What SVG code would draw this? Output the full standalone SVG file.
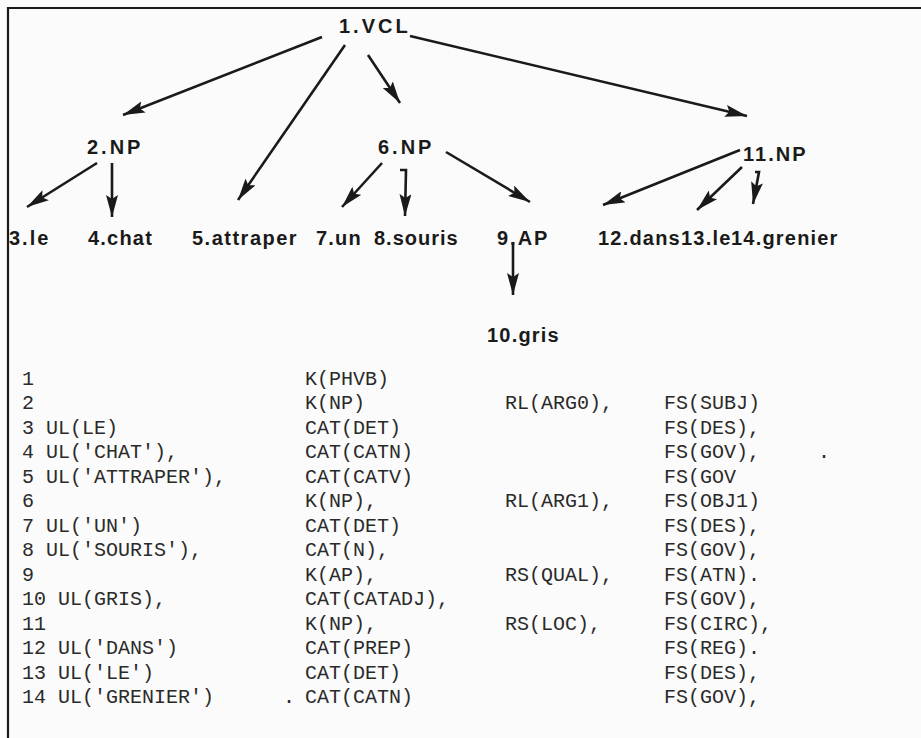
<svg xmlns="http://www.w3.org/2000/svg" width="921" height="738" viewBox="0 0 921 738">
<style>
.lbl{font-family:"Liberation Sans",Arial,sans-serif;font-weight:bold;font-size:20px;letter-spacing:3px;fill:#1a1a1a}
.leaf{font-family:"Liberation Sans",Arial,sans-serif;font-weight:bold;font-size:20px;letter-spacing:1.2px;fill:#1a1a1a}
.tab{font-family:"Liberation Mono","Courier New",monospace;font-size:20px;fill:#2a2a2a}
.edge{fill:none;stroke:#1a1a1a;stroke-width:2.6;marker-end:url(#ah)}
.frame{fill:none;stroke:#1a1a1a;stroke-width:2.2}
</style>
<defs>
<marker id="ah" markerUnits="userSpaceOnUse" markerWidth="24" markerHeight="12" refX="22" refY="6" orient="auto">
<path d="M0,0 L22,6 L0,12 L4,6 Z" fill="#1a1a1a"/>
</marker>
</defs>
<rect width="921" height="738" fill="#fbfbfb"/>
<path class="frame" d="M921,8 L8,8 L8,738"/>
<g id="connectors">
<path class="edge" d="M322,37 L123,115"/>
<path class="edge" d="M345,45 L238,200"/>
<path class="edge" d="M368,55 L400,103"/>
<path class="edge" d="M410,36 L747,116"/>
<path class="edge" d="M97,163 L27,207"/>
<path class="edge" d="M112,163 L112,217"/>
<path class="edge" d="M382,163 L342,207"/>
<path class="edge" d="M400,170 L406,170 L405,216"/>
<path class="edge" d="M446,152 L530,202"/>
<path class="edge" d="M740,150 L603,205"/>
<path class="edge" d="M742,167 L697,210"/>
<path class="edge" d="M755,172 L759,172 L753,204"/>
<path class="edge" d="M513,242 L513,295"/>
</g>
<g id="n1"><text class="lbl" x="339" y="33">1.VCL</text></g>
<g id="n2"><text class="lbl" x="87" y="154">2.NP</text></g>
<g id="n6"><text class="lbl" x="378" y="154">6.NP</text></g>
<g id="n11"><text class="lbl" x="743" y="161" style="letter-spacing:2px">11.NP</text></g>
<g id="n3"><text class="leaf" x="9" y="245" style="letter-spacing:2px">3.le</text></g>
<g id="n4"><text class="leaf" x="88" y="245">4.chat</text></g>
<g id="n5"><text class="leaf" x="192" y="245" style="letter-spacing:1.5px">5.attraper</text></g>
<g id="n7"><text class="leaf" x="316" y="245">7.un</text></g>
<g id="n8"><text class="leaf" x="374" y="245" style="letter-spacing:1px">8.souris</text></g>
<g id="n9"><text class="leaf" x="497" y="245" style="letter-spacing:2px">9.AP</text></g>
<g id="n12"><text class="leaf" x="598" y="245">12.dans</text></g>
<g id="n13"><text class="leaf" x="681" y="245">13.le</text></g>
<g id="n14"><text class="leaf" x="731" y="245">14.grenier</text></g>
<g id="n10"><text class="leaf" x="487" y="342">10.gris</text></g>
<g id="table" class="tab">
<text x="22" y="385">1</text><text x="305" y="385">K(PHVB)</text>
<text x="22" y="409">2</text><text x="305" y="409">K(NP)</text><text x="505" y="409">RL(ARG0),</text><text x="664" y="409">FS(SUBJ)</text>
<text x="22" y="434">3 UL(LE)</text><text x="305" y="434">CAT(DET)</text><text x="664" y="434">FS(DES),</text>
<text x="22" y="458">4 UL('CHAT'),</text><text x="305" y="458">CAT(CATN)</text><text x="664" y="458">FS(GOV),</text><text x="818" y="458">.</text>
<text x="22" y="483">5 UL('ATTRAPER'),</text><text x="305" y="483">CAT(CATV)</text><text x="664" y="483">FS(GOV</text>
<text x="22" y="507">6</text><text x="305" y="507">K(NP),</text><text x="505" y="507">RL(ARG1),</text><text x="664" y="507">FS(OBJ1)</text>
<text x="22" y="532">7 UL('UN')</text><text x="305" y="532">CAT(DET)</text><text x="664" y="532">FS(DES),</text>
<text x="22" y="556">8 UL('SOURIS'),</text><text x="305" y="556">CAT(N),</text><text x="664" y="556">FS(GOV),</text>
<text x="22" y="581">9</text><text x="305" y="581">K(AP),</text><text x="505" y="581">RS(QUAL),</text><text x="664" y="581">FS(ATN).</text>
<text x="22" y="605">10 UL(GRIS),</text><text x="305" y="605">CAT(CATADJ),</text><text x="664" y="605">FS(GOV),</text>
<text x="22" y="630">11</text><text x="305" y="630">K(NP),</text><text x="505" y="630">RS(LOC),</text><text x="664" y="630">FS(CIRC),</text>
<text x="22" y="654">12 UL('DANS')</text><text x="305" y="654">CAT(PREP)</text><text x="664" y="654">FS(REG).</text>
<text x="22" y="679">13 UL('LE')</text><text x="305" y="679">CAT(DET)</text><text x="664" y="679">FS(DES),</text>
<text x="22" y="703">14 UL('GRENIER')</text><text x="283" y="703">.</text><text x="305" y="703">CAT(CATN)</text><text x="664" y="703">FS(GOV),</text>
</g>
</svg>
